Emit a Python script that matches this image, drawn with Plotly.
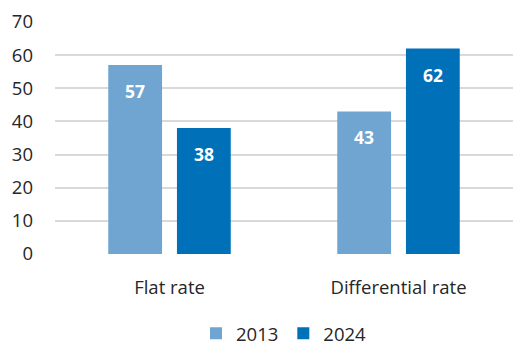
import plotly.graph_objects as go

categories = ["Flat rate", "Differential rate"]
values_2013 = [57, 43]
values_2024 = [38, 62]
series_names = ["2013", "2024"]
y_ticks = [0, 10, 20, 30, 40, 50, 60, 70]

colors = ["#6FA5D0", "#0070B9"]
font_family = "Open Sans, Noto Sans, sans-serif"
text_color = "#262626"

fig = go.Figure()
for name, vals, col in zip(series_names, [values_2013, values_2024], colors):
    fig.add_trace(go.Bar(
        x=categories, y=vals, name=name, marker=dict(color=col, line=dict(width=0)),
        hoverinfo="skip", showlegend=False, legendgroup=name,
    ))
    # larger square swatch for the legend entry
    fig.add_trace(go.Scatter(
        x=[None], y=[None], name=name, mode="markers", legendgroup=name,
        marker=dict(symbol="square", size=12, color=col, line=dict(width=0)),
        hoverinfo="skip",
    ))

# value labels placed just below each bar top
for vals, off in [(values_2013, -0.5), (values_2024, 0.5)]:
    for j, v in enumerate(vals):
        fig.add_annotation(
            x=j, y=v, xref="x", yref="y", text=f"<b>{v}</b>", showarrow=False,
            xshift=off * 69, yshift=-26, yanchor="middle",
            font=dict(family=font_family, size=17.5, color="white"),
        )

fig.update_layout(
    width=513, height=347,
    margin=dict(l=55, r=0, t=22, b=93, autoexpand=False),
    paper_bgcolor="white", plot_bgcolor="white",
    barmode="group", bargap=0.4, bargroupgap=0.217,
    font=dict(family=font_family, size=19, color=text_color),
    xaxis=dict(showline=False, ticks="", ticklabelstandoff=20,
               tickfont=dict(size=18.5, color=text_color)),
    yaxis=dict(range=[0, 70], tickvals=y_ticks, showgrid=True, gridcolor="#D9D9D9",
               gridwidth=1.5, zeroline=False, ticks="", ticklabelstandoff=21,
               tickfont=dict(size=18.5, color=text_color)),
    legend=dict(orientation="h", x=0.5, xanchor="center", y=-0.262, yanchor="top",
                font=dict(size=18.5, color=text_color), itemwidth=30, traceorder="normal"),
    showlegend=True,
)

fig.write_html("out.html")
